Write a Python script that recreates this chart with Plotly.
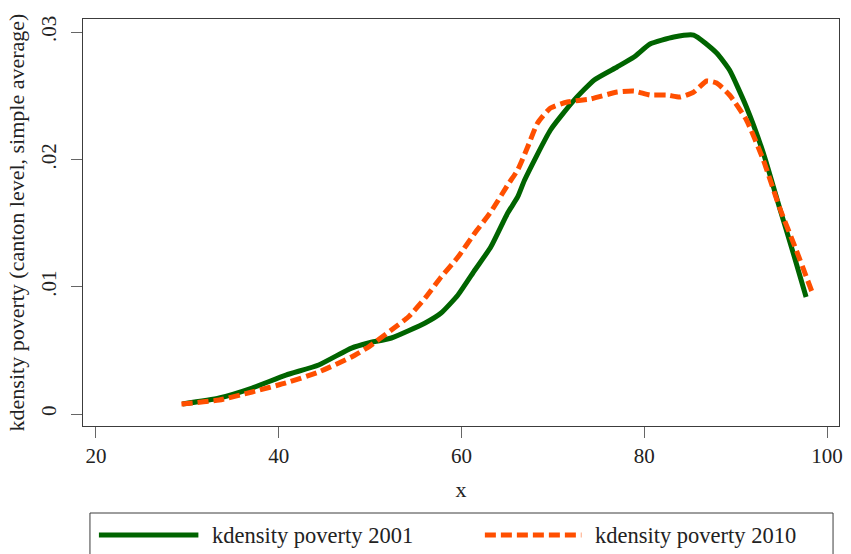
import plotly.graph_objects as go

# ---- data ----
x_2001 = [29.47, 33.50, 37.09, 40.79, 44.38, 47.97, 49.82, 52.33, 56.03, 57.77,
          59.62, 61.47, 63.21, 65.06, 66.15, 66.91, 69.74, 72.35, 74.53, 77.03,
          78.88, 80.63, 83.24, 85.41, 87.92, 89.33, 91.18, 93.03, 94.78, 96.30, 97.71]
y_2001 = [0.00079, 0.00126, 0.00204, 0.00306, 0.00385, 0.00518, 0.00558, 0.00597, 0.00715, 0.00793,
          0.00935, 0.01131, 0.01312, 0.01579, 0.01705, 0.01838, 0.02231, 0.02467, 0.02624, 0.02726,
          0.02804, 0.02907, 0.02962, 0.02977, 0.02836, 0.02702, 0.02412, 0.02050, 0.01626, 0.01265, 0.00919]

x_2010 = [29.36, 33.50, 37.09, 40.79, 44.38, 47.97, 49.82, 52.33, 54.18, 56.03,
          57.77, 59.62, 61.47, 63.21, 65.06, 66.15, 67.24, 68.33, 69.74, 71.59,
          74.10, 77.03, 78.88, 80.63, 82.48, 83.89, 85.41, 86.83, 87.92, 89.33,
          91.18, 93.03, 94.78, 96.63, 98.48]
y_2010 = [0.00079, 0.00110, 0.00173, 0.00244, 0.00330, 0.00448, 0.00526, 0.00660, 0.00762, 0.00911,
          0.01076, 0.01233, 0.01422, 0.01587, 0.01799, 0.01917, 0.02097, 0.02286, 0.02404, 0.02451,
          0.02474, 0.02529, 0.02537, 0.02506, 0.02506, 0.02490, 0.02529, 0.02616, 0.02600, 0.02506,
          0.02310, 0.01995, 0.01626, 0.01288, 0.00935]

series_names = ["kdensity poverty 2001", "kdensity poverty 2010"]
x_ticks = [20, 40, 60, 80, 100]
y_ticks = [0, 0.01, 0.02, 0.03]
y_tick_labels = ["0", ".01", ".02", ".03"]

# ---- styling ----
W, H = 851, 554
ML, MR, MT, MB = 83, 8, 19, 128
PW, PH = W - ML - MR, H - MT - MB
GREEN = "#006400"
ORANGE = "#FF4F00"
FONT = "Liberation Serif, Times New Roman, DejaVu Serif, serif"
AX = "#3c3c3c"
TXT = "#222"

def px(xp):
    return (xp - ML) / PW

def py(yp):
    return (H - MB - yp) / PH

fig = go.Figure()
fig.add_trace(go.Scatter(x=x_2001, y=y_2001, mode="lines", name=series_names[0],
                         line=dict(color=GREEN, width=5, shape="spline", smoothing=0.5),
                         showlegend=False))
fig.add_trace(go.Scatter(x=x_2010, y=y_2010, mode="lines", name=series_names[1],
                         line=dict(color=ORANGE, width=5, dash="11px,5px", shape="spline", smoothing=0.5),
                         showlegend=False))

# manual legend (box, keys, labels)
shapes = [
    dict(type="rect", xref="paper", yref="paper", x0=px(90), x1=px(837), y0=py(513), y1=py(575),
         line=dict(color=AX, width=1), fillcolor="rgba(0,0,0,0)", layer="above"),
    dict(type="line", xref="paper", yref="paper", x0=px(99), x1=px(199), y0=py(535), y1=py(535),
         line=dict(color=GREEN, width=5)),
    dict(type="line", xref="paper", yref="paper", x0=px(487), x1=px(584), y0=py(535), y1=py(535),
         line=dict(color=ORANGE, width=5, dash="11px,5px")),
]
annotations = [
    dict(text=series_names[0], xref="paper", yref="paper", x=px(211), y=py(535),
         xanchor="left", yanchor="middle", showarrow=False, font=dict(family=FONT, size=22.5, color=TXT)),
    dict(text=series_names[1], xref="paper", yref="paper", x=px(596), y=py(535),
         xanchor="left", yanchor="middle", showarrow=False, font=dict(family=FONT, size=22.5, color=TXT)),
]

fig.update_layout(
    width=W, height=H,
    margin=dict(l=ML, r=MR, t=MT, b=MB),
    paper_bgcolor="white", plot_bgcolor="white",
    font=dict(family=FONT, size=21, color=TXT),
    shapes=shapes, annotations=annotations,
    xaxis=dict(range=[18.59, 101.31], tickvals=x_ticks, ticks="outside", ticklen=11,
               tickcolor="#666", tickwidth=1.2, showline=True, mirror=True, linecolor=AX,
               linewidth=1.3, showgrid=False, zeroline=False,
               title=dict(text="x", font=dict(family=FONT, size=22), standoff=14),
               tickfont=dict(family=FONT, size=21)),
    yaxis=dict(range=[-0.000943, 0.03103], tickvals=y_ticks, ticktext=y_tick_labels,
               ticks="outside", ticklen=11, tickcolor="#666", tickwidth=1.2,
               showline=True, mirror=True, linecolor=AX, linewidth=1.3,
               showgrid=False, zeroline=False, tickangle=-90, ticklabelstandoff=6,
               title=dict(text="kdensity poverty (canton level, simple average)",
                          font=dict(family=FONT, size=22), standoff=6),
               tickfont=dict(family=FONT, size=21)),
)

fig.write_html("out.html")
